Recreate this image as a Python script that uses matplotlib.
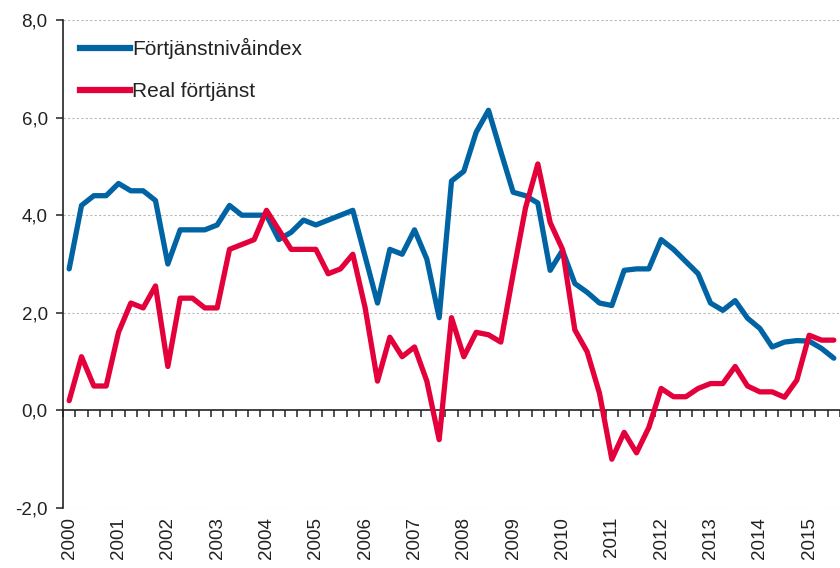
import matplotlib
matplotlib.use("Agg")
import matplotlib.pyplot as plt
from matplotlib.lines import Line2D

# quarterly series, 2000Q1 onwards
years = [str(y) for y in range(2000, 2016)]

fortjanstnivaindex = [
    2.9, 4.2, 4.4, 4.4, 4.65, 4.5, 4.5, 4.3,      # 2000-2001
    3.0, 3.7, 3.7, 3.7, 3.8, 4.2, 4.0, 4.0,       # 2002-2003
    4.0, 3.5, 3.65, 3.9, 3.8, 3.9, 4.0, 4.1,      # 2004-2005
    3.15, 2.2, 3.3, 3.2, 3.7, 3.1, 1.9, 4.7,      # 2006-2007
    4.9, 5.7, 6.15, 5.3, 4.47, 4.4, 4.25, 2.87,   # 2008-2009
    3.28, 2.6, 2.42, 2.2, 2.15, 2.87, 2.9, 2.9,   # 2010-2011
    3.5, 3.3, 3.05, 2.8, 2.2, 2.05, 2.25, 1.89,   # 2012-2013
    1.68, 1.3, 1.4, 1.43, 1.42, 1.27, 1.07,       # 2014-2015
]

real_fortjanst = [
    0.2, 1.1, 0.5, 0.5, 1.6, 2.2, 2.1, 2.55,
    0.9, 2.3, 2.3, 2.1, 2.1, 3.3, 3.4, 3.5,
    4.1, 3.7, 3.3, 3.3, 3.3, 2.8, 2.9, 3.2,
    2.1, 0.6, 1.5, 1.1, 1.3, 0.6, -0.6, 1.9,
    1.1, 1.6, 1.55, 1.4, 2.8, 4.15, 5.05, 3.85,
    3.3, 1.65, 1.2, 0.35, -1.0, -0.45, -0.87, -0.35,
    0.45, 0.28, 0.28, 0.45, 0.55, 0.55, 0.9, 0.5,
    0.38, 0.38, 0.27, 0.62, 1.54, 1.44, 1.44,
]

blue = "#0063A3"
red = "#E4003A"

plt.rcParams["font.family"] = ["Liberation Sans", "DejaVu Sans"]

fig = plt.figure(figsize=(8.4, 5.68), dpi=100)
ax = fig.add_axes([63 / 840, 60 / 568, 1 - 63 / 840, 488 / 568])

x = list(range(len(fortjanstnivaindex)))
ax.plot(x, fortjanstnivaindex, color=blue, lw=3.8, solid_joinstyle="round",
        solid_capstyle="round", zorder=3)
ax.plot(x, real_fortjanst, color=red, lw=3.8, solid_joinstyle="round",
        solid_capstyle="round", zorder=4)

ax.set_xlim(-0.5, 61.9)
ax.set_ylim(-2, 8)

# grid
for v in [-2, 2, 4, 6, 8]:
    ax.axhline(v, color="#b8b8b8", lw=0.8, ls=(0, (2, 2)), zorder=1)

# axes spines
for s in ["top", "right"]:
    ax.spines[s].set_visible(False)
ax.spines["left"].set_linewidth(1.2)
ax.spines["left"].set_color("#222222")
ax.spines["bottom"].set_position(("data", 0))
ax.spines["bottom"].set_linewidth(1.2)
ax.spines["bottom"].set_color("#222222")
ax.spines["bottom"].set_zorder(2)

ax.set_xticks([i - 0.5 for i in range(len(x) + 1)])
ax.set_xticklabels([])
ax.tick_params(axis="x", direction="out", length=5, width=1.1, color="#222222")

ax.set_yticks([-2, 0, 2, 4, 6, 8])
ax.set_yticklabels([f"{v:.1f}".replace(".", ",") for v in [-2, 0, 2, 4, 6, 8]])
ax.tick_params(axis="y", direction="out", length=5, width=1.1, color="#222222",
               labelsize=13.5, labelcolor="#222222", pad=6)

# year labels under the plot
for k, yr in enumerate(years):
    ax.text(4 * k, -0.018, yr, transform=ax.get_xaxis_transform(),
            rotation=90, ha="center", va="top", fontsize=13.5, color="#222222")

ax.legend(handles=[Line2D([], [], color=blue, lw=4.5),
                   Line2D([], [], color=red, lw=4.5)],
          labels=["Förtjänstnivåindex", "Real förtjänst"],
          loc="upper left", bbox_to_anchor=(0.0, 0.997), frameon=False,
          fontsize=15, handlelength=2.4, handletextpad=0.12,
          labelspacing=1.1, borderpad=0.3, borderaxespad=0.5,
          labelcolor="#222222")

fig.savefig("out.png", dpi=100)
